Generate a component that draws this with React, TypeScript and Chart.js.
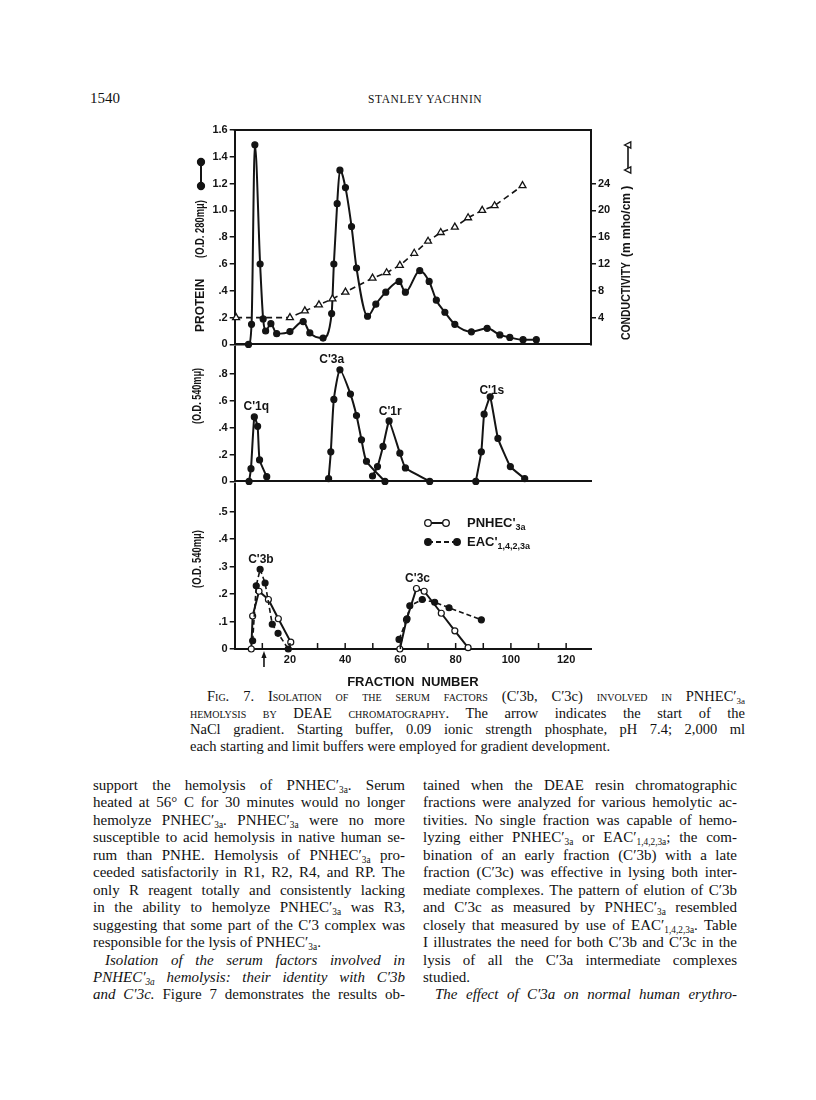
import React, { useEffect, useRef } from 'react';
import { Chart, registerables } from 'chart.js';

Chart.register(...registerables);

// ---------------- data ----------------
// Top panel: protein (O.D. 280 mµ) and conductivity (m mho/cm) vs fraction number
const proteinFraction = [0, 5, 6.1, 7.3, 9.2, 10.3, 11.2, 13.1, 15.2, 20, 24.8, 27.2, 32, 35.1, 35.9, 37.1, 38.1, 40.1, 42.3, 44.1, 48.1, 51.1, 54.7, 59.5, 61.8, 67, 70.4, 73, 76.1, 79.7, 85.7, 91.4, 96, 99.6, 104.4, 109.2];
const proteinOD = [0, 0, 0.15, 1.49, 0.6, 0.19, 0.1, 0.155, 0.08, 0.096, 0.17, 0.086, 0.047, 0.23, 0.6, 1.05, 1.3, 1.17, 0.88, 0.57, 0.21, 0.3, 0.39, 0.47, 0.39, 0.55, 0.47, 0.33, 0.24, 0.15, 0.094, 0.12, 0.071, 0.052, 0.035, 0.035];
const conductivityFraction = [0.5, 20, 25.4, 30.5, 35.4, 40.1, 49.9, 55, 59.8, 65, 70, 74.6, 79.7, 84.5, 89.6, 94.1, 104.2];
const conductivityMmho = [4, 4, 5.0, 5.9, 6.8, 7.8, 9.9, 10.7, 11.8, 13.6, 15.4, 16.7, 17.5, 18.9, 20.0, 20.7, 23.7];

// Middle panel: hemolytic activity (O.D. 540 mµ)
const c1qFraction = [5.2, 5.9, 7.1, 8.3, 9.0, 11.6];
const c1qOD = [0, 0.095, 0.48, 0.41, 0.16, 0.035];
const c3aFraction = [34.0, 34.8, 35.9, 38.1, 41.9, 44.1, 45.9, 47.7, 54.4];
const c3aOD = [0.02, 0.22, 0.61, 0.83, 0.65, 0.49, 0.31, 0.15, 0];
const c1rFraction = [49.9, 51.7, 53.7, 55.9, 59.8, 61.8, 70.6];
const c1rOD = [0.04, 0.11, 0.26, 0.45, 0.21, 0.1, 0];
const c1sFraction = [87.3, 89.3, 90.3, 92.5, 95.3, 99.8, 105.0];
const c1sOD = [0, 0.22, 0.5, 0.63, 0.32, 0.11, 0.02];

// Bottom panel: PNHEC'3a (open circles) and EAC'1,4,2,3a (filled, dashed)
const pnhec3bFraction = [6.0, 6.5, 8.8, 12.2, 15.8, 20.3];
const pnhec3bOD = [0, 0.12, 0.21, 0.18, 0.11, 0.025];
const eac3bFraction = [6.5, 7.8, 9.2, 11.0, 13.6, 15.7, 19.4];
const eac3bOD = [0.03, 0.23, 0.29, 0.24, 0.09, 0.057, 0];
const pnhec3cFraction = [59.8, 62.2, 65.8, 68.6, 74.8, 79.7, 84.5];
const pnhec3cOD = [0, 0.106, 0.22, 0.21, 0.13, 0.066, 0.005];
const eac3cFraction = [59.5, 62.4, 63.4, 67.9, 72.4, 77.6, 89.3];
const eac3cOD = [0.035, 0.11, 0.157, 0.18, 0.17, 0.15, 0.106];

// Ticks
const fractionTicks = [10, 20, 30, 40, 50, 60, 70, 80, 90, 100, 110, 120];
const fractionTickLabels = ['', '20', '', '40', '', '60', '', '80', '', '100', '', '120'];
const proteinTicks = [0, 0.2, 0.4, 0.6, 0.8, 1.0, 1.2, 1.4, 1.6];
const proteinTickLabels = ['0', '.2', '.4', '.6', '.8', '1.0', '1.2', '1.4', '1.6'];
const conductivityTicks = [4, 8, 12, 16, 20, 24];
const conductivityTickLabels = ['4', '8', '12', '16', '20', '24'];
const middleTicks = [0, 0.2, 0.4, 0.6, 0.8];
const middleTickLabels = ['0', '.2', '.4', '.6', '.8'];
const bottomTicks = [0, 0.1, 0.2, 0.3, 0.4, 0.5];
const bottomTickLabels = ['0', '.1', '.2', '.3', '.4', '.5'];

const arrowFraction = 10.6;
const middlePeakNames = ["C'1q", "C'3a", "C'1r", "C'1s"];
const middlePeakAt = [[7.8, 0.555], [35.1, 0.903], [56.3, 0.519], [93.1, 0.677]];
const bottomPeakNames = ["C'3b", "C'3c"];
const bottomPeakAt = [[9.5, 0.325], [66.2, 0.255]];

// ---------------- layout ----------------
const CANVAS_LEFT = 150;
const CANVAS_W = 520;
const LEFT_AXIS_W = 84.7;
const RIGHT_W = 79;
const TOP1 = 110, H1 = 243;
const TOP2 = 337, H2 = 153;
const TOP3 = 474, H3 = 225;

const INK = '#141414';
const SANS = "'Liberation Sans', Arial, Helvetica, sans-serif";
const SERIF = "'Liberation Serif', 'Times New Roman', serif";
const tickFont = { family: SANS, size: 11, weight: 'bold' as const };

const pts = (xs: number[], ys: number[]) => xs.map((x, i) => ({ x, y: ys[i] }));

function xAxis(height: number, show: boolean) {
  return {
    type: 'linear', position: 'bottom', min: 0, max: 129,
    afterBuildTicks: (s: any) => { s.ticks = fractionTicks.map((v) => ({ value: v })); },
    grid: { display: false, drawTicks: false },
    border: { display: true, color: INK, width: 2 },
    ticks: {
      display: show, autoSkip: false, maxRotation: 0, padding: 4, color: INK, font: tickFont,
      callback: (_v: any, i: number) => fractionTickLabels[i] ?? '',
    },
    title: {
      display: show, text: 'FRACTION  NUMBER', color: INK,
      font: { family: SANS, size: 13, weight: 'bold' }, padding: { top: 4, bottom: 9.2 },
    },
    afterFit: (s: any) => { s.height = height; },
  };
}

function yAxis(position: string, min: number, max: number, ticks: number[], labels: string[], width: number) {
  return {
    type: 'linear', position, min, max,
    afterBuildTicks: (s: any) => { s.ticks = ticks.map((v) => ({ value: v })); },
    grid: { display: true, drawOnChartArea: false, drawTicks: true, tickLength: 5, color: INK, lineWidth: 1.5 },
    border: { display: true, color: INK, width: 2 },
    ticks: { color: INK, font: tickFont, padding: 2, autoSkip: false, callback: (_v: any, i: number) => labels[i] ?? '' },
    afterFit: (s: any) => { s.width = width; },
  };
}

function lineSet(xs: number[], ys: number[], extra: any = {}) {
  return {
    data: pts(xs, ys), borderColor: INK, borderWidth: 2, tension: 0, fill: false, clip: false,
    pointRadius: 3, pointHoverRadius: 3, pointBackgroundColor: INK, pointBorderColor: INK, pointBorderWidth: 1.2,
    ...extra,
  };
}

function baseOptions(padding: any, scales: any) {
  return {
    responsive: false, animation: false, devicePixelRatio: 1, events: [],
    layout: { padding },
    plugins: { legend: { display: false }, tooltip: { enabled: false } },
    scales,
  };
}

// ---------------- drawing helpers ----------------
function seg(ctx: any, x1: number, y1: number, x2: number, y2: number, w: number, dash: number[] = []) {
  ctx.save(); ctx.strokeStyle = INK; ctx.lineWidth = w; ctx.setLineDash(dash);
  ctx.beginPath(); ctx.moveTo(x1, y1); ctx.lineTo(x2, y2); ctx.stroke(); ctx.restore();
}
function dot(ctx: any, x: number, y: number, r: number, filled: boolean) {
  ctx.save(); ctx.beginPath(); ctx.arc(x, y, r, 0, Math.PI * 2);
  ctx.fillStyle = filled ? INK : '#fff'; ctx.fill();
  ctx.strokeStyle = INK; ctx.lineWidth = 1.3; ctx.stroke(); ctx.restore();
}
function tri(ctx: any, x: number, y: number, r: number) {
  ctx.save(); ctx.beginPath();
  ctx.moveTo(x - r, y); ctx.lineTo(x + r * 0.8, y - r * 0.9); ctx.lineTo(x + r * 0.8, y + r * 0.9); ctx.closePath();
  ctx.fillStyle = '#fff'; ctx.fill(); ctx.strokeStyle = INK; ctx.lineWidth = 1.3; ctx.stroke(); ctx.restore();
}
function vtext(ctx: any, text: string, x: number, yBottom: number, maxW: number) {
  ctx.save(); ctx.translate(x, yBottom); ctx.rotate(-Math.PI / 2);
  ctx.font = `bold 12px ${SANS}`; ctx.fillStyle = INK; ctx.textAlign = 'left'; ctx.textBaseline = 'middle';
  ctx.fillText(text, 0, 0, maxW); ctx.restore();
}
function ctext(ctx: any, text: string, x: number, y: number, size = 12) {
  ctx.save(); ctx.font = `bold ${size}px ${SANS}`; ctx.fillStyle = INK;
  ctx.textAlign = 'center'; ctx.textBaseline = 'middle'; ctx.fillText(text, x, y); ctx.restore();
}
function subText(ctx: any, main: string, sub: string, x: number, y: number) {
  ctx.save(); ctx.fillStyle = INK; ctx.textAlign = 'left'; ctx.textBaseline = 'middle';
  ctx.font = `bold 13px ${SANS}`; ctx.fillText(main, x, y);
  const w = ctx.measureText(main).width;
  ctx.font = `bold 9px ${SANS}`; ctx.fillText(sub, x + w, y + 5); ctx.restore();
}

function annotate(canvasTop: number, draw: (ctx: any, chart: any, X: (v: number) => number, Y: (id: string, v: number) => number) => void) {
  return {
    id: 'annot',
    afterDraw(chart: any) {
      const ctx = chart.ctx;
      ctx.save();
      ctx.translate(-CANVAS_LEFT, -canvasTop);
      const X = (v: number) => chart.scales.x.getPixelForValue(v) + CANVAS_LEFT;
      const Y = (id: string, v: number) => chart.scales[id].getPixelForValue(v) + canvasTop;
      draw(ctx, chart, X, Y);
      ctx.restore();
    },
  };
}

// ---------------- chart configurations ----------------
function buildTop() {
  return {
    type: 'line',
    data: {
      datasets: [
        lineSet(conductivityFraction, conductivityMmho, {
          yAxisID: 'y2', borderWidth: 1.6, borderDash: [6, 4], pointStyle: 'triangle', pointRadius: 4,
          pointHoverRadius: 4, pointBackgroundColor: '#fff', pointBorderWidth: 1.3,
        }),
        lineSet(proteinFraction, proteinOD, {
          yAxisID: 'y', cubicInterpolationMode: 'monotone',
          pointRadius: (c: any) => (c.dataIndex === 0 ? 0 : 3),
        }),
      ],
    },
    options: baseOptions({ top: 20, bottom: 6, left: 0, right: 0 }, {
      x: xAxis(0, false),
      y: yAxis('left', 0, 1.6, proteinTicks, proteinTickLabels, LEFT_AXIS_W),
      y2: yAxis('right', 0, 32, conductivityTicks, conductivityTickLabels, RIGHT_W),
    }),
    plugins: [annotate(TOP1, (ctx, chart) => {
      const ca = chart.chartArea;
      seg(ctx, ca.left + CANVAS_LEFT - 1, ca.top + TOP1, ca.right + CANVAS_LEFT + 1, ca.top + TOP1, 2);
      // protein key and title
      seg(ctx, 201, 162, 201, 186, 2);
      dot(ctx, 201, 162, 3.5, true); dot(ctx, 201, 186, 3.5, true);
      vtext(ctx, 'PROTEIN', 201, 332, 70);
      vtext(ctx, '(O.D. 280mμ)', 201, 258, 58);
      // conductivity key and title
      seg(ctx, 628, 145, 628, 170, 1.6);
      tri(ctx, 628, 145, 3.5); tri(ctx, 628, 170, 3.5);
      vtext(ctx, 'CONDUCTIVITY', 627, 340, 78);
      vtext(ctx, '(m mho/cm )', 627, 257, 74);
    })],
  };
}

function buildMiddle() {
  return {
    type: 'line',
    data: {
      datasets: [
        lineSet(c1qFraction, c1qOD, { yAxisID: 'y', tension: 0.15 }),
        lineSet(c3aFraction, c3aOD, { yAxisID: 'y', tension: 0.2 }),
        lineSet(c1rFraction, c1rOD, { yAxisID: 'y', tension: 0.1 }),
        lineSet(c1sFraction, c1sOD, { yAxisID: 'y', tension: 0.1 }),
      ],
    },
    options: baseOptions({ top: 10, bottom: 6, left: 0, right: RIGHT_W }, {
      x: xAxis(0, false),
      y: yAxis('left', 0, 1.0, middleTicks, middleTickLabels, LEFT_AXIS_W),
    }),
    plugins: [annotate(TOP2, (ctx, _chart, X, Y) => {
      vtext(ctx, '(O.D. 540mμ)', 198, 424, 56);
      middlePeakNames.forEach((n, i) => ctext(ctx, n, X(middlePeakAt[i][0]), Y('y', middlePeakAt[i][1])));
    })],
  };
}

function buildBottom() {
  return {
    type: 'line',
    data: {
      datasets: [
        lineSet(eac3bFraction, eac3bOD, { yAxisID: 'y', borderWidth: 1.6, borderDash: [5, 3] }),
        lineSet(eac3cFraction, eac3cOD, { yAxisID: 'y', borderWidth: 1.6, borderDash: [5, 3] }),
        lineSet(pnhec3bFraction, pnhec3bOD, { yAxisID: 'y', pointBackgroundColor: '#fff' }),
        lineSet(pnhec3cFraction, pnhec3cOD, { yAxisID: 'y', pointBackgroundColor: '#fff' }),
      ],
    },
    options: baseOptions({ top: 10, bottom: 0, left: 0, right: RIGHT_W }, {
      x: xAxis(50, true),
      y: yAxis('left', 0, 0.6, bottomTicks, bottomTickLabels, LEFT_AXIS_W),
    }),
    plugins: [annotate(TOP3, (ctx, chart, X, Y) => {
      const base = chart.chartArea.bottom + TOP3;
      fractionTicks.forEach((v) => seg(ctx, X(v), base, X(v), base - 6, 1.5));
      vtext(ctx, '(O.D. 540mμ)', 198, 588, 58);
      bottomPeakNames.forEach((n, i) => ctext(ctx, n, X(bottomPeakAt[i][0]), Y('y', bottomPeakAt[i][1])));
      // arrow marking start of NaCl gradient
      const ax = X(arrowFraction);
      seg(ctx, ax, 667, ax, 656, 1.6);
      ctx.save(); ctx.fillStyle = INK; ctx.beginPath();
      ctx.moveTo(ax, 651); ctx.lineTo(ax - 2.6, 658); ctx.lineTo(ax + 2.6, 658); ctx.closePath(); ctx.fill(); ctx.restore();
      // legend
      seg(ctx, 428, 523, 446, 523, 2);
      dot(ctx, 428, 523, 3.3, false); dot(ctx, 446, 523, 3.3, false);
      subText(ctx, "PNHEC'", '3a', 467, 523);
      seg(ctx, 428, 542, 457, 542, 1.8, [5, 3]);
      dot(ctx, 428, 542, 3.3, true); dot(ctx, 457, 542, 3.3, true);
      subText(ctx, "EAC'", '1,4,2,3a', 467, 542);
    })],
  };
}

function ChartCanvas({ top, height, build }: { top: number; height: number; build: () => any }) {
  const ref = useRef<HTMLCanvasElement | null>(null);
  useEffect(() => {
    const chart = new Chart(ref.current as HTMLCanvasElement, build());
    return () => chart.destroy();
  }, [build]);
  return (
    <canvas
      ref={ref}
      width={CANVAS_W}
      height={height}
      style={{ position: 'absolute', left: CANVAS_LEFT, top, width: CANVAS_W, height, display: 'block' }}
    />
  );
}

// ---------------- page text ----------------
const Sub = ({ children }: { children: React.ReactNode }) => (
  <span style={{ fontSize: '0.62em', verticalAlign: '-0.28em', lineHeight: 0 }}>{children}</span>
);
const SC = ({ children }: { children: React.ReactNode }) => (
  <span style={{ fontVariant: 'small-caps' }}>{children}</span>
);

function Line({ left, top, width, justify = true, indent = 0, size = 15, lh = 17.4, children }: any) {
  return (
    <div
      style={{
        position: 'absolute', left: left + indent, top, width: width - indent,
        fontFamily: SERIF, fontSize: size, lineHeight: `${lh}px`, color: '#111',
        textAlign: justify ? 'justify' : 'left', textAlignLast: justify ? 'justify' : 'left',
        whiteSpace: 'normal',
      }}
    >
      {children}
    </div>
  );
}

const P = <>PNHEC′<Sub>3a</Sub></>;
const E = <>EAC′<Sub>1,4,2,3a</Sub></>;

const leftColumn = [
  <>support the hemolysis of {P}.  Serum</>,
  <>heated at 56° C for 30 minutes would no longer</>,
  <>hemolyze {P}.  {P} were no more</>,
  <>susceptible to acid hemolysis in native human se-</>,
  <>rum than PNHE.  Hemolysis of {P} pro-</>,
  <>ceeded satisfactorily in R1, R2, R4, and RP.  The</>,
  <>only R reagent totally and consistently lacking</>,
  <>in the ability to hemolyze {P} was R3,</>,
  <>suggesting that some part of the C′3 complex was</>,
  <>responsible for the lysis of {P}.</>,
  <i>Isolation of the serum factors involved in</i>,
  <i>{P} hemolysis: their identity with C′3b</i>,
  <><i>and C′3c.</i>  Figure 7 demonstrates the results ob-</>,
];
const rightColumn = [
  <>tained when the DEAE resin chromatographic</>,
  <>fractions were analyzed for various hemolytic ac-</>,
  <>tivities.  No single fraction was capable of hemo-</>,
  <>lyzing either {P} or {E}; the com-</>,
  <>bination of an early fraction (C′3b) with a late</>,
  <>fraction (C′3c) was effective in lysing both inter-</>,
  <>mediate complexes.  The pattern of elution of C′3b</>,
  <>and C′3c as measured by {P} resembled</>,
  <>closely that measured by use of {E}.  Table</>,
  <>I illustrates the need for both C′3b and C′3c in the</>,
  <>lysis of all the C′3a intermediate complexes</>,
  <>studied.</>,
  <i>The effect of C′3a on normal human erythro-</i>,
];

function PageText() {
  const bodyTop = (i: number) => 786 + i * 17.45 - 9;
  const capTop = (i: number) => 697 + i * 16.7 - 9;
  const cap = 14.5;
  return (
    <>
      <div style={{ position: 'absolute', left: 90, top: 89, fontFamily: SERIF, fontSize: 15, lineHeight: '18px', color: '#111' }}>1540</div>
      <div style={{ position: 'absolute', left: 368, top: 91, fontFamily: SERIF, fontSize: 11.5, letterSpacing: 0.6, lineHeight: '16px', color: '#111' }}>STANLEY YACHNIN</div>

      <Line left={190} top={capTop(0)} width={555} indent={17} size={cap} lh={16.7}>
        <SC>Fig. 7.  Isolation of the serum factors</SC> (C′3b, C′3c) <SC>involved in</SC> PNHEC′<Sub>3a</Sub>
      </Line>
      <Line left={190} top={capTop(1)} width={555} size={cap} lh={16.7}>
        <SC>hemolysis by</SC> DEAE <SC>chromatography</SC>.  The arrow indicates the start of the
      </Line>
      <Line left={190} top={capTop(2)} width={555} size={cap} lh={16.7}>
        NaCl gradient.  Starting buffer, 0.09 ionic strength phosphate, pH 7.4; 2,000 ml
      </Line>
      <Line left={190} top={capTop(3)} width={555} size={cap} lh={16.7} justify={false}>
        each starting and limit buffers were employed for gradient development.
      </Line>

      {leftColumn.map((c, i) => (
        <Line key={'l' + i} left={93} top={bodyTop(i)} width={312} justify={i !== 9} indent={i === 10 ? 12 : 0}>{c}</Line>
      ))}
      {rightColumn.map((c, i) => (
        <Line key={'r' + i} left={423} top={bodyTop(i)} width={314} justify={i !== 11} indent={i === 12 ? 12 : 0}>{c}</Line>
      ))}
    </>
  );
}

export default function App() {
  return (
    <div style={{ position: 'absolute', left: 0, top: 0, width: 816, height: 1100, background: '#fff', overflow: 'hidden' }}>
      <PageText />
      <ChartCanvas top={TOP1} height={H1} build={buildTop} />
      <ChartCanvas top={TOP2} height={H2} build={buildMiddle} />
      <ChartCanvas top={TOP3} height={H3} build={buildBottom} />
    </div>
  );
}
